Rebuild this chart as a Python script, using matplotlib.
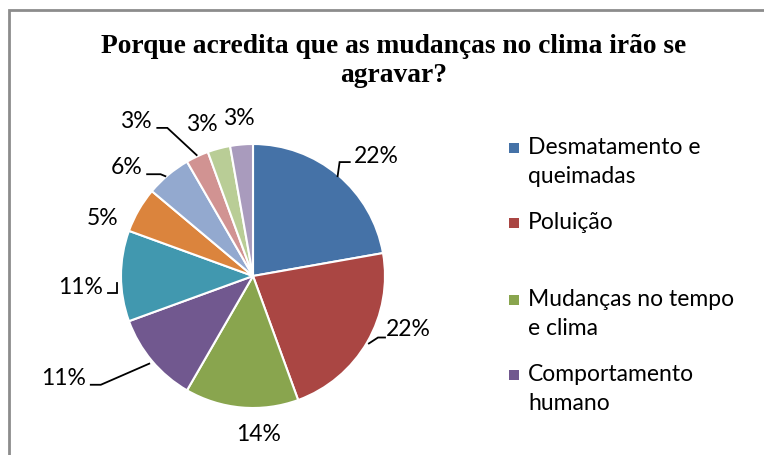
import numpy as np
import matplotlib
matplotlib.use("Agg")
import matplotlib.pyplot as plt
from matplotlib.patches import Rectangle

# ---- data ----
categories = ["Desmatamento e\nqueimadas", "Poluição", "Mudanças no tempo\ne clima",
              "Comportamento\nhumano", "Outros 1", "Outros 2", "Outros 3",
              "Outros 4", "Outros 5", "Outros 6"]
counts = [8, 8, 5, 4, 4, 2, 2, 1, 1, 1]
pct_labels = ["22%", "22%", "14%", "11%", "11%", "5%", "6%", "3%", "3%", "3%"]
colors = ["#4572A7", "#AA4643", "#89A54E", "#71588F", "#4198AF",
          "#DB843D", "#93A9CF", "#D19392", "#B9CD96", "#A99BBD"]
title = "Porque acredita que as mudanças no clima irão se\nagravar?"
legend_shown = 4

W, H = 764, 455
fig = plt.figure(figsize=(W / 100, H / 100), dpi=100)
fig.patch.set_facecolor("white")

# chart frame
fig.patches.append(Rectangle((8.5 / W, -0.1), 1.2, 1 - 9.5 / H + 0.1, transform=fig.transFigure,
                             fill=False, edgecolor="#8c8c8c", linewidth=2.0))

cx, cy, R = 253, 455 - 276, 132
ax = fig.add_axes([(cx - R) / W, (cy - R) / H, 2 * R / W, 2 * R / H])
ax.axis("off")

wedges, _ = ax.pie(counts, colors=colors, startangle=90, counterclock=False, radius=1,
                   wedgeprops=dict(edgecolor="white", linewidth=1.5))
for w in wedges:
    w.set_clip_on(False)
ax.set_xlim(-1, 1)
ax.set_ylim(-1, 1)
ax.set_aspect("equal")

lab_font = dict(family="Lato", fontsize=16.5, color="black")
# label placement (polar: angle deg, radius)
label_pos = [(44, 1.30), (-18.9, 1.24), (-88, 1.20), (-151.5, 1.63), (-176.3, 1.31),
             (159.2, 1.22), (139.4, 1.26), (127.2, 1.47), (108.8, 1.21), (95.1, 1.20)]
for lab, (a, r) in zip(pct_labels, label_pos):
    t = np.deg2rad(a)
    ax.text(r * np.cos(t), r * np.sin(t), lab, ha="center", va="center", clip_on=False, **lab_font)

# leader lines (layout, data coords of the unit pie)
leaders = [
    [(0.641, 0.756), (0.656, 0.863), (0.733, 0.863)],
    [(0.878, -0.511), (0.947, -0.466), (1.0, -0.466)],
    [(-0.786, -0.664), (-1.153, -0.824), (-1.229, -0.824)],
    [(-1.031, -0.053), (-1.031, -0.13), (-1.099, -0.13)],
    [(-0.664, 0.756), (-0.70, 0.771), (-0.802, 0.771)],
    [(-0.427, 0.916), (-0.649, 1.122), (-0.725, 1.122)],
]
for pts in leaders:
    xs, ys = zip(*pts)
    ax.plot(xs, ys, color="black", lw=1.3, clip_on=False, solid_joinstyle="miter")

# title
fig.text(394 / W, 1 - 61 / H, title, ha="center", va="center", family="Liberation Serif",
         fontweight="bold", fontsize=19.8, linespacing=1.2)

# legend (custom, Excel-like)
leg_y = [148, 223, 300, 375]
for i in range(legend_shown):
    y = 1 - leg_y[i] / H
    fig.patches.append(Rectangle((509 / W, y - 5 / H), 10 / W, 10 / H, transform=fig.transFigure,
                                 facecolor=colors[i], edgecolor="none"))
    fig.text(528 / W, y + 11 / H, categories[i], ha="left", va="top", linespacing=1.45,
             **lab_font)

fig.savefig("out.png", dpi=100, facecolor="white")
